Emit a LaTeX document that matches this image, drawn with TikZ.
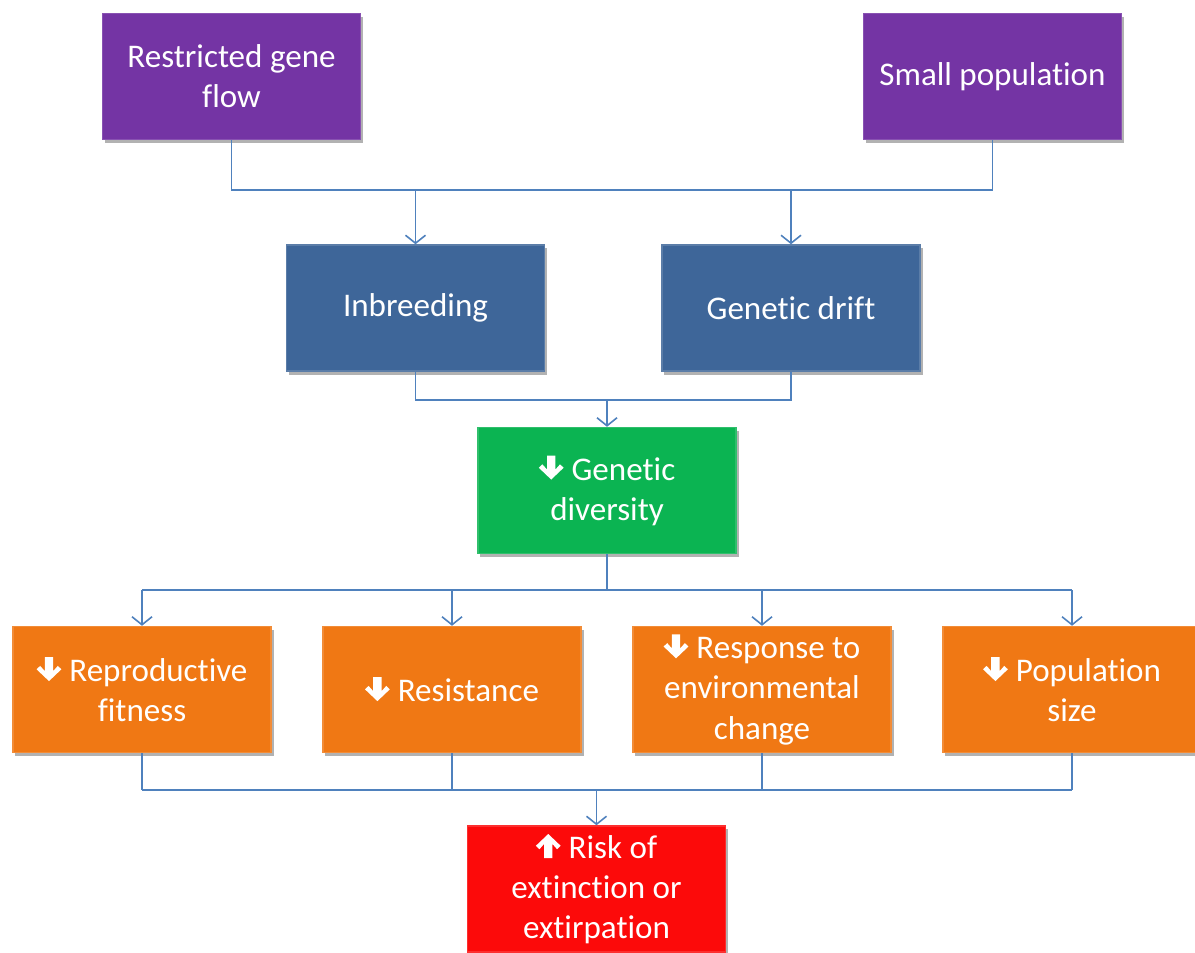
\documentclass[tikz,border=0pt]{standalone}
\usepackage{fontspec}
\setmainfont{Carlito}[Ligatures=NoCommon]
\usetikzlibrary{arrows.meta,shadows}

% white block arrows used inside the boxes
\newsavebox{\downbox}
\newsavebox{\upbox}
\sbox{\downbox}{\tikz\fill[white] (-0.042,0.24) -- (0.042,0.24) -- (0.042,0.1) -- (0.088,0.152) -- (0.124,0.118) -- (0,0) -- (-0.124,0.118) -- (-0.088,0.152) -- (-0.042,0.1) -- cycle;}
\sbox{\upbox}{\tikz\fill[white] (-0.042,0) -- (0.042,0) -- (0.042,0.14) -- (0.088,0.088) -- (0.124,0.122) -- (0,0.24) -- (-0.124,0.122) -- (-0.088,0.088) -- (-0.042,0.14) -- cycle;}
\newcommand{\dn}{\raisebox{0.005cm}{\usebox{\downbox}}\hspace{0.08cm}}
\newcommand{\up}{\raisebox{0.005cm}{\usebox{\upbox}}\hspace{0.08cm}}

\definecolor{cPurple}{HTML}{7434A4}
\definecolor{cBlue}{HTML}{3E6699}
\definecolor{cGreen}{HTML}{0BB452}
\definecolor{cOrange}{HTML}{F07814}
\definecolor{cRed}{HTML}{FC0A0A}
\definecolor{cLine}{HTML}{4F81BD}

\tikzset{
  box/.style={rectangle, minimum width=2.58cm, minimum height=1.26cm, inner sep=0pt,
    text=white, align=center, font=\fontsize{9.4}{11.4}\selectfont,
    drop shadow={shadow xshift=0.025cm, shadow yshift=-0.035cm, opacity=0.3, fill=black}},
  purplebox/.style={box, fill=cPurple, draw=cPurple!85!white, line width=0.4pt},
  bluebox/.style={box, fill=cBlue, draw=cBlue!85!white, line width=0.4pt},
  greenbox/.style={box, fill=cGreen, draw=cGreen!85!white, line width=0.4pt},
  orangebox/.style={box, fill=cOrange, draw=cOrange!85!white, line width=0.4pt},
  redbox/.style={box, fill=cRed, draw=cRed!85!white, line width=0.4pt},
  link/.style={draw=cLine, line width=0.45pt},
  arr/.style={link, -{Straight Barb[length=0.08cm, width=0.2cm]}}
}

\begin{document}
\begin{tikzpicture}[x=0.01cm, y=-0.01cm]
\useasboundingbox[fill=white] (0,0) rectangle (1195,952);

% boxes
\node[purplebox] (rgf) at (231.5,76.5) {Restricted gene\\flow};
\node[purplebox] (sp)  at (992.5,76.5) {Small population};
\node[bluebox]   (inb) at (415.5,308) {Inbreeding};
\node[bluebox]   (gd)  at (791,308) {Genetic drift};
\node[greenbox]  (div) at (607,490.5) {\dn Genetic\\diversity};
\node[orangebox] (fit) at (142,689.5) {\dn Reproductive\\fitness};
\node[orangebox] (res) at (452,689.5) {\dn Resistance};
\node[orangebox] (env) at (762,689.5) {\dn Response to\\environmental\\change};
\node[orangebox] (pop) at (1072,689.5) {\dn Population\\size};
\node[redbox]    (risk) at (596.5,889) {\up Risk of\\extinction or\\extirpation};

% junction coordinates
\coordinate (j1) at (0,190);
\coordinate (j2) at (0,400);
\coordinate (j3) at (0,590);
\coordinate (j4) at (0,790);

% top level joins
\draw[link] (rgf.south) -- (rgf.south |- j1) -- (sp.south |- j1) -- (sp.south);
\draw[arr] (inb.north |- j1) -- (inb.north);
\draw[arr] (gd.north |- j1) -- (gd.north);

% inbreeding and drift joins
\draw[link] (inb.south) -- (inb.south |- j2) -- (gd.south |- j2) -- (gd.south);
\draw[arr] (div.north |- j2) -- (div.north);

% diversity fan out
\draw[link] (div.south) -- (div.south |- j3);
\draw[link] (fit.north |- j3) -- (pop.north |- j3);
\draw[arr] (fit.north |- j3) -- (fit.north);
\draw[arr] (res.north |- j3) -- (res.north);
\draw[arr] (env.north |- j3) -- (env.north);
\draw[arr] (pop.north |- j3) -- (pop.north);

% fan in to risk
\draw[link] (fit.south) -- (fit.south |- j4);
\draw[link] (res.south) -- (res.south |- j4);
\draw[link] (env.south) -- (env.south |- j4);
\draw[link] (pop.south) -- (pop.south |- j4);
\draw[link] (fit.south |- j4) -- (pop.south |- j4);
\draw[arr] (risk.north |- j4) -- (risk.north);
\end{tikzpicture}
\end{document}
